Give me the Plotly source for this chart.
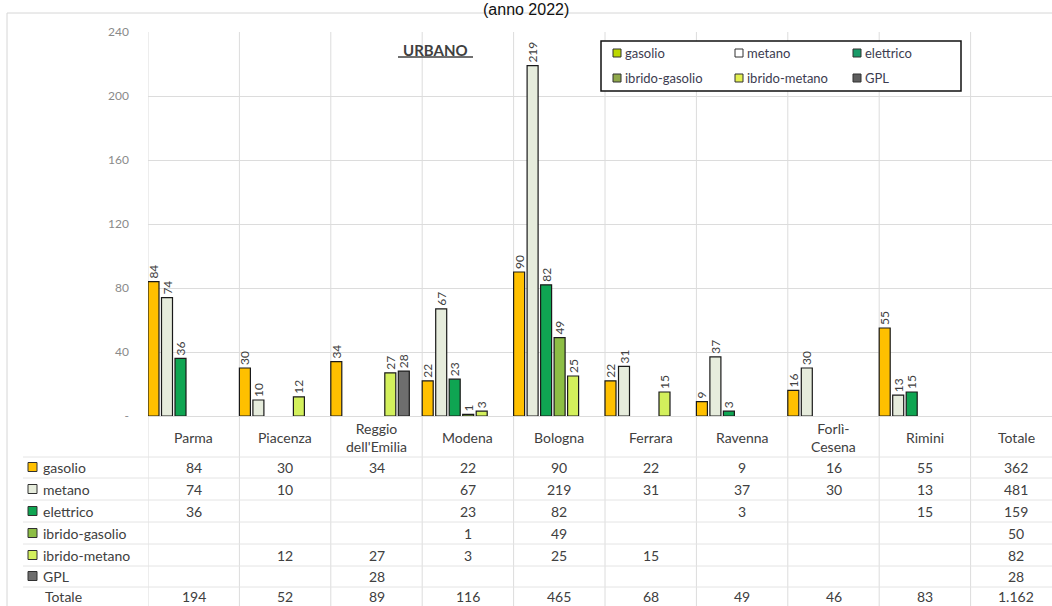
import plotly.graph_objects as go

# ---- data -------------------------------------------------------------
province = ["Parma", "Piacenza", "Reggio dell'Emilia", "Modena", "Bologna",
            "Ferrara", "Ravenna", "Forlì-Cesena", "Rimini"]
header_labels = ["Parma", "Piacenza", "Reggio<br>dell'Emilia", "Modena", "Bologna",
                 "Ferrara", "Ravenna", "Forlì-<br>Cesena", "Rimini", "Totale"]

series_names = ["gasolio", "metano", "elettrico", "ibrido-gasolio", "ibrido-metano", "GPL"]
gasolio = [84, 30, 34, 22, 90, 22, 9, 16, 55]
metano = [74, 10, None, 67, 219, 31, 37, 30, 13]
elettrico = [36, None, None, 23, 82, None, 3, None, 15]
ibrido_gasolio = [None, None, None, 1, 49, None, None, None, None]
ibrido_metano = [None, 12, 27, 3, 25, 15, None, None, None]
gpl = [None, None, 28, None, None, None, None, None, None]
series_values = [gasolio, metano, elettrico, ibrido_gasolio, ibrido_metano, gpl]

y_ticks = [0, 40, 80, 120, 160, 200, 240]
y_ticktext = ["-", "40", "80", "120", "160", "200", "240"]

# ---- styling ----------------------------------------------------------
bar_colors = ["#FFC000", "#E6ECDC", "#0FA552", "#8DBE45", "#D3F05C", "#6E6E6E"]
legend_colors = ["#BCD800", "#FFFFFF", "#1A9A68", "#8FA84A", "#E4F050", "#5E5E5E"]
text_col = "#404040"
grid_col = "#DCDCDC"
font_main = "Lato"

W, H = 1052, 606
L, R, T, B = 148, 0, 32, 190
plot_w = W - L - R
plot_h = H - T - B
cat_px = 91.4                     # width of one category band in pixels
x_max = -0.5 + plot_w / cat_px


def px(p):
    """pixel x -> paper x"""
    return (p - L) / plot_w


def py(p):
    """pixel y -> paper y"""
    return (H - B - p) / plot_h


def fmt_it(n):
    return f"{n:,}".replace(",", ".")


fig = go.Figure()

slot = 13.5 / cat_px
bar_w = 11.0 / cat_px
for j, (name, vals) in enumerate(zip(series_names, series_values)):
    fig.add_trace(go.Bar(
        x=list(range(len(province))),
        y=vals,
        name=name,
        width=bar_w,
        offset=-0.5 + j * slot,
        marker=dict(color=bar_colors[j], line=dict(color="#1A1A1A", width=1.2)),
        text=[("" if v is None else str(v)) for v in vals],
        textposition="outside",
        textangle=-90,
        constraintext="none",
        cliponaxis=False,
        textfont=dict(family=font_main, size=12, color=text_col),
        showlegend=False,
    ))

shapes = []
annotations = []

# outer frame of the chart area
shapes.append(dict(type="rect", xref="paper", yref="paper",
                   x0=px(7), x1=px(W + 5), y0=py(H + 5), y1=py(13),
                   line=dict(color="#D6D6D6", width=1), layer="below"))

# vertical separators between categories, through plot and table
for i in range(len(header_labels) + 1):
    shapes.append(dict(type="line", xref="x", yref="paper",
                       x0=i - 0.5, x1=i - 0.5, y0=py(H), y1=1,
                       line=dict(color=grid_col, width=1), layer="below"))

# table rows
header_y = 437
row_y = [467, 489, 511, 533, 555, 576]
total_y = 596
for yy in [457, 478, 500, 522, 544, 566, 587]:
    shapes.append(dict(type="line", xref="paper", yref="paper",
                       x0=px(23), x1=px(W), y0=py(yy), y1=py(yy),
                       line=dict(color="#E4E4E4", width=1), layer="below"))

# header row
for i, lab in enumerate(header_labels):
    annotations.append(dict(x=i, y=py(header_y), xref="x", yref="paper",
                            text=lab, showarrow=False, xanchor="center", yanchor="middle",
                            font=dict(family=font_main, size=14, color=text_col)))

# series rows
for r, (name, vals) in enumerate(zip(series_names, series_values)):
    yy = py(row_y[r])
    shapes.append(dict(type="rect", xref="paper", yref="paper",
                       x0=px(28), x1=px(37), y0=py(row_y[r] + 4.5), y1=py(row_y[r] - 4.5),
                       fillcolor=bar_colors[r], line=dict(color="#303030", width=1)))
    annotations.append(dict(x=px(41), y=yy, xref="paper", yref="paper", text=name,
                            showarrow=False, xanchor="left", yanchor="middle",
                            font=dict(family=font_main, size=14, color=text_col)))
    for i, v in enumerate(vals):
        if v is not None:
            annotations.append(dict(x=i, y=yy, xref="x", yref="paper", text=str(v),
                                    showarrow=False, xanchor="center", yanchor="middle",
                                    font=dict(family=font_main, size=14, color=text_col)))
    row_total = sum(v for v in vals if v is not None)
    annotations.append(dict(x=len(province), y=yy, xref="x", yref="paper",
                            text=fmt_it(row_total), showarrow=False,
                            xanchor="center", yanchor="middle",
                            font=dict(family=font_main, size=14, color=text_col)))

# totals row
col_totals = [sum(s[i] for s in series_values if s[i] is not None) for i in range(len(province))]
annotations.append(dict(x=px(43), y=py(total_y), xref="paper", yref="paper", text="Totale",
                        showarrow=False, xanchor="left", yanchor="middle",
                        font=dict(family=font_main, size=14, color=text_col)))
for i, v in enumerate(col_totals + [sum(col_totals)]):
    annotations.append(dict(x=i, y=py(total_y), xref="x", yref="paper", text=fmt_it(v),
                            showarrow=False, xanchor="center", yanchor="middle",
                            font=dict(family=font_main, size=14, color=text_col)))

# legend box
shapes.append(dict(type="rect", xref="paper", yref="paper",
                   x0=px(601), x1=px(961), y0=py(91), y1=py(41),
                   fillcolor="white", line=dict(color="#111111", width=1.5), layer="above"))
leg_cols = [613, 735, 853]
leg_rows = [53, 78]
for k, name in enumerate(series_names):
    cx = leg_cols[k % 3]
    cy = leg_rows[k // 3]
    shapes.append(dict(type="rect", xref="paper", yref="paper",
                       x0=px(cx), x1=px(cx + 8), y0=py(cy + 4), y1=py(cy - 4),
                       fillcolor=legend_colors[k], line=dict(color="#303030", width=1),
                       layer="above"))
    annotations.append(dict(x=px(cx + 10), y=py(cy), xref="paper", yref="paper", text=name,
                            showarrow=False, xanchor="left", yanchor="middle",
                            font=dict(family=font_main, size=13, color="#3C3C50")))

# series block label
annotations.append(dict(x=px(435), y=py(50), xref="paper", yref="paper",
                        text="<b>URBANO</b>", showarrow=False, xanchor="center",
                        yanchor="middle", font=dict(family=font_main, size=15, color=text_col)))
shapes.append(dict(type="line", xref="paper", yref="paper",
                   x0=px(398), x1=px(473), y0=py(57), y1=py(57),
                   line=dict(color=text_col, width=1.3), layer="above"))

# title
annotations.append(dict(x=px(526), y=py(9), xref="paper", yref="paper",
                        text="(anno 2022)", showarrow=False, xanchor="center",
                        yanchor="middle",
                        font=dict(family="Liberation Sans, Arial", size=16, color="#111111")))

fig.update_layout(
    width=W, height=H, autosize=False,
    margin=dict(l=L, r=R, t=T, b=B, pad=0),
    paper_bgcolor="white", plot_bgcolor="white",
    barmode="overlay",
    showlegend=False,
    shapes=shapes,
    annotations=annotations,
    xaxis=dict(range=[-0.5, x_max], showticklabels=False, showgrid=False,
               zeroline=False, showline=False, ticks="", fixedrange=True),
    yaxis=dict(range=[0, 240], tickvals=y_ticks, ticktext=y_ticktext,
               showgrid=True, gridcolor=grid_col, gridwidth=1,
               zeroline=True, zerolinecolor=grid_col, zerolinewidth=1,
               showline=False, ticks="", ticklabelstandoff=18,
               tickfont=dict(family=font_main, size=12, color="#8A8A8A"),
               fixedrange=True),
)

fig.write_html("out.html")
